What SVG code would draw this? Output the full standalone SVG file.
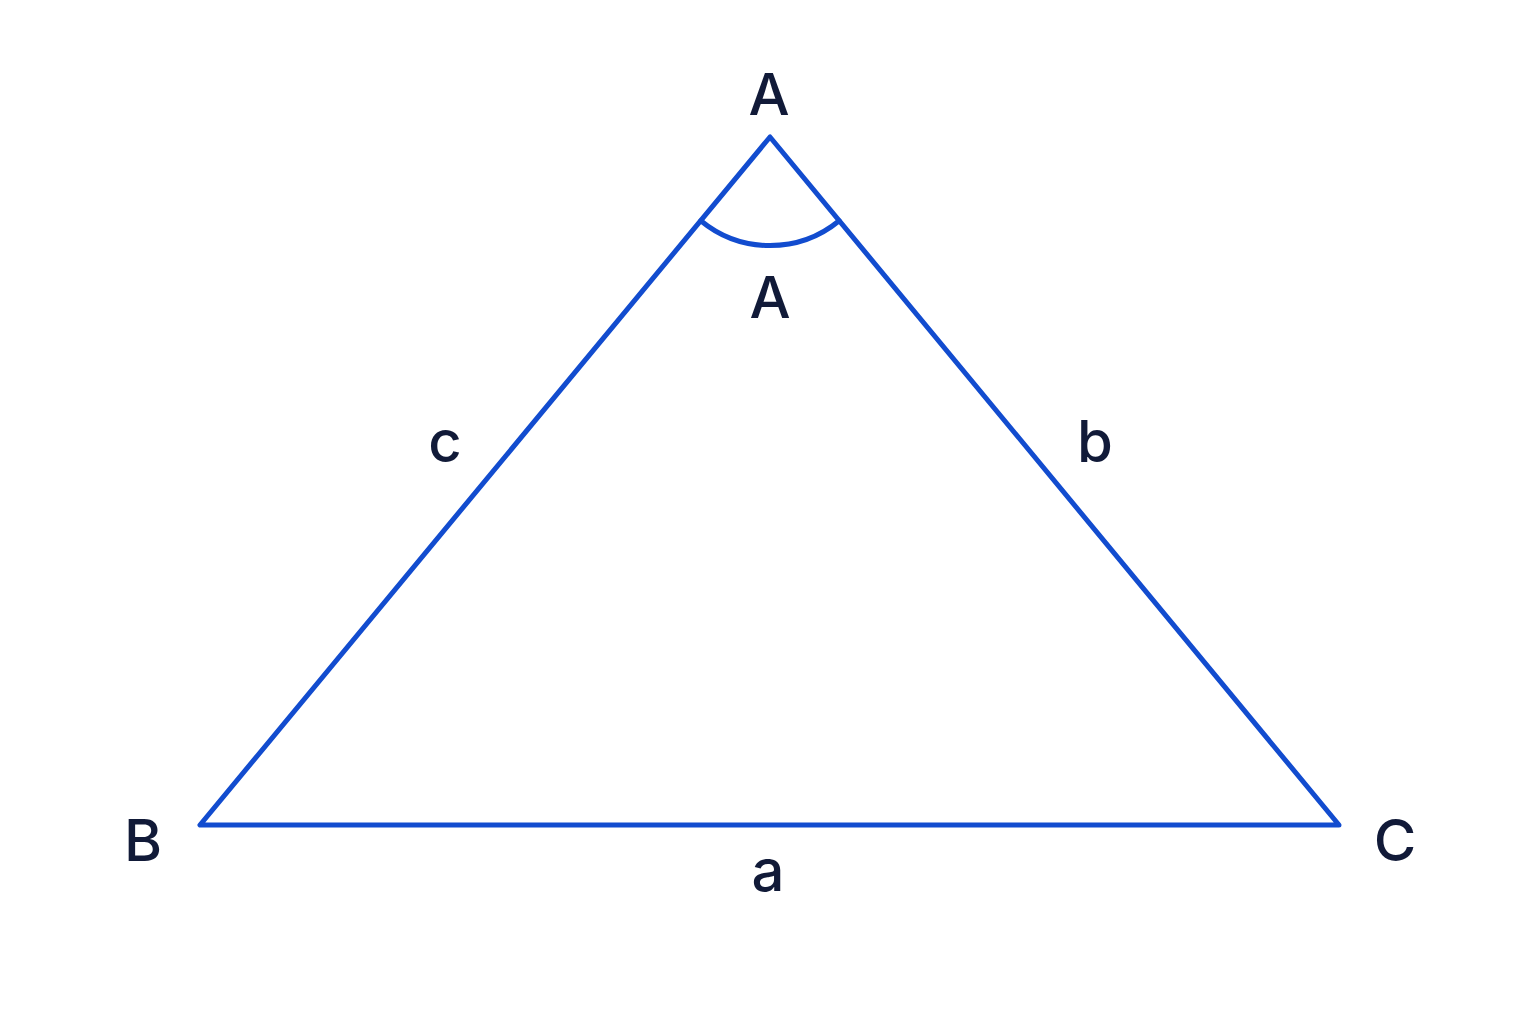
<svg xmlns="http://www.w3.org/2000/svg" width="1536" height="1024" viewBox="0 0 1536 1024">
<style>
.edge{fill:none;stroke:#124ccf;stroke-width:5;stroke-linejoin:round;stroke-linecap:round}
.lbl{font-family:Inter,"Liberation Sans",sans-serif;font-size:58px;font-weight:500;fill:#111a38;text-anchor:middle}
</style>
<rect width="1536" height="1024" fill="#ffffff"/>
<g id="connectors">
<path class="edge" d="M770,137 L200,825 L1339,825 Z"/>
<path id="angleA" class="edge" d="M700.8,220.8 A109,109 0 0 0 839.2,220.8"/>
</g>
<g id="vertexA"><text class="lbl" x="769" y="115">A</text></g>
<g id="angleLabel"><text class="lbl" x="770" y="318">A</text></g>
<g id="vertexB"><text class="lbl" x="143" y="861">B</text></g>
<g id="vertexC"><text class="lbl" x="1395" y="861">C</text></g>
<g id="sideC"><text class="lbl" x="445" y="462">c</text></g>
<g id="sideB"><text class="lbl" x="1095" y="462">b</text></g>
<g id="sideA"><text class="lbl" x="768" y="891">a</text></g>
</svg>
